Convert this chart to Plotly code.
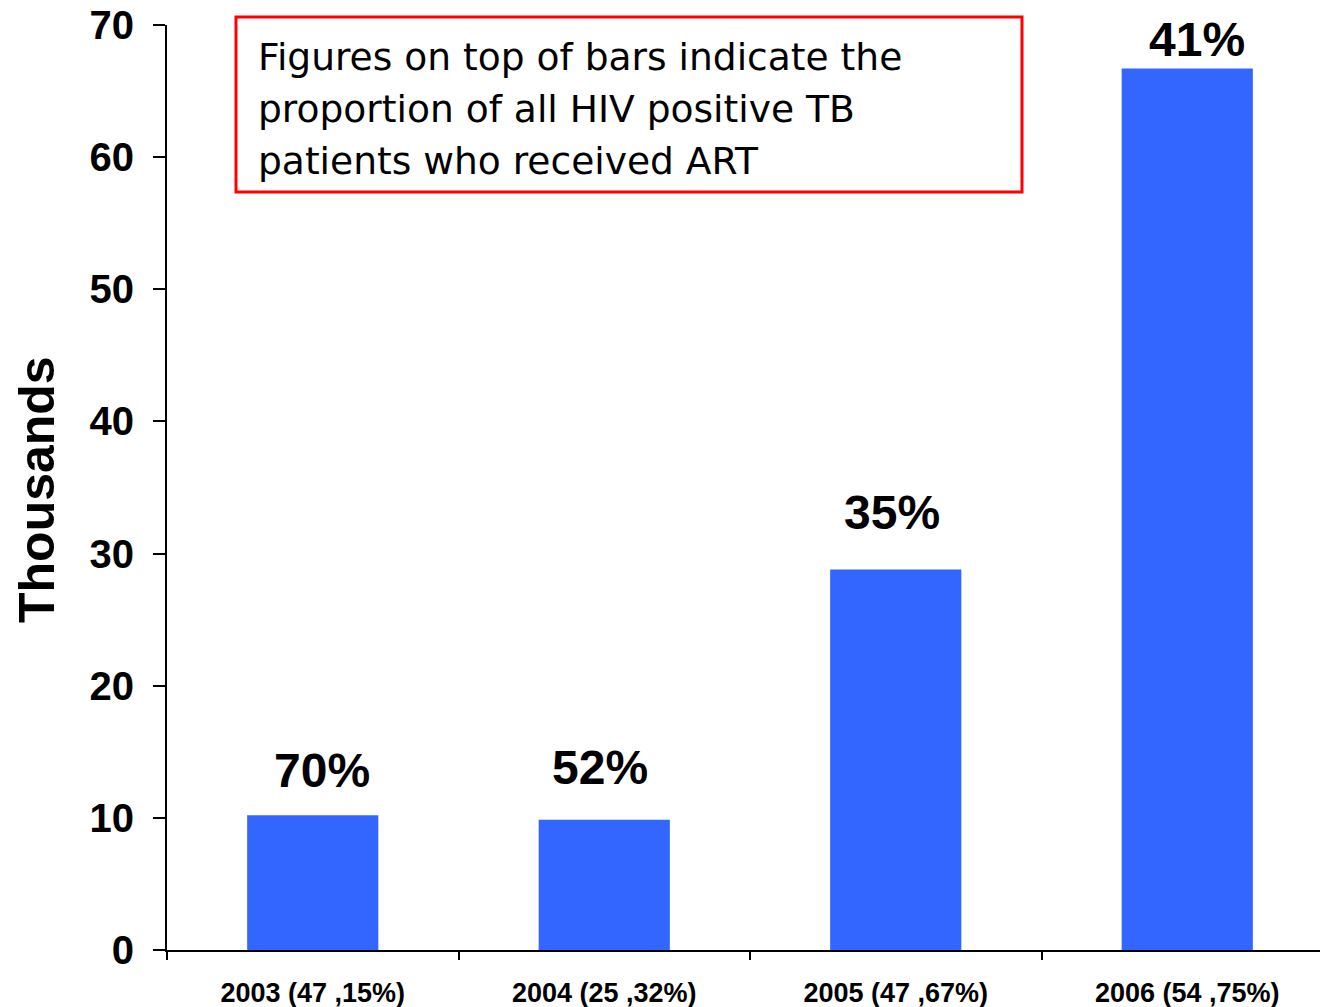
import plotly.graph_objects as go

# ---- data ----
categories = ["2003 (47 ,15%)", "2004 (25 ,32%)", "2005 (47 ,67%)", "2006 (54 ,75%)"]
values_thousands = [10.2, 9.85, 28.8, 66.7]
pct_labels = ["70%", "52%", "35%", "41%"]
y_ticks = [0, 10, 20, 30, 40, 50, 60, 70]
note_lines = [
    "Figures on top of bars indicate the",
    "proportion of all HIV positive TB",
    "patients who received ART",
]

# ---- layout helpers (pixels) ----
W, H = 1320, 1007
L, R, T, B = 167, 0, 25, 57
PW, PH = W - L - R, H - T - B


def px_x(px):
    return (px - L) / PW


def px_y(py):
    return (H - B - py) / PH


label_yshift = [16, 24, 28, 1]
label_xshift = [9, -4, -4, 10]

fig = go.Figure()
fig.add_trace(go.Bar(
    x=categories,
    y=values_thousands,
    width=0.45,
    marker=dict(color="#3366FF", line=dict(width=0)),
    hoverinfo="x+y",
))

annotations = []
for c, v, lab, ys, xs in zip(categories, values_thousands, pct_labels, label_yshift, label_xshift):
    annotations.append(dict(
        x=c, y=v, xref="x", yref="y", text=lab, showarrow=False,
        xanchor="center", yanchor="bottom", yshift=ys, xshift=xs,
        font=dict(family="Liberation Sans, Arial, sans-serif", size=48, color="black", weight="bold"),
    ))

# y-axis title
annotations.append(dict(
    x=px_x(37), y=px_y(490), xref="paper", yref="paper", text="Thousands",
    textangle=-90, showarrow=False, xanchor="center", yanchor="middle",
    font=dict(family="Liberation Sans, Arial, sans-serif", size=50, color="black", weight="bold"),
))

# note text lines
for i, line in enumerate(note_lines):
    baseline = 71 + 52 * i
    annotations.append(dict(
        x=px_x(256), y=px_y(baseline + 10), xref="paper", yref="paper", text=line,
        showarrow=False, xanchor="left", yanchor="bottom", align="left",
        font=dict(family="DejaVu Sans, Verdana, sans-serif", size=37.6, color="black"),
    ))

fig.update_layout(
    width=W, height=H,
    margin=dict(l=L, r=R, t=T, b=B, pad=0),
    plot_bgcolor="white", paper_bgcolor="white",
    showlegend=False,
    bargap=0.55,
    annotations=annotations,
    shapes=[dict(
        type="rect", xref="paper", yref="paper",
        x0=px_x(236), x1=px_x(1022), y0=px_y(192), y1=px_y(17),
        line=dict(color="#FF0000", width=3), fillcolor="rgba(0,0,0,0)",
    )],
    xaxis=dict(
        type="category",
        range=[-0.5, -0.5 + PW / 291.5],
        showline=True, linecolor="black", linewidth=2,
        ticks="outside", ticklen=8, tickwidth=2, tickcolor="black",
        tickson="boundaries",
        showgrid=False, zeroline=False,
        tickfont=dict(family="Liberation Sans, Arial, sans-serif", size=27, color="black", weight="bold"),
        ticklabelstandoff=18,
    ),
    yaxis=dict(
        range=[0, 70],
        tickvals=y_ticks,
        ticktext=[str(t) for t in y_ticks],
        showline=True, linecolor="black", linewidth=2,
        ticks="outside", ticklen=12, tickwidth=2, tickcolor="black",
        showgrid=False, zeroline=False,
        tickfont=dict(family="Liberation Sans, Arial, sans-serif", size=40, color="black", weight="bold"),
        ticklabelstandoff=11,
    ),
)

fig.write_html(
    "out.html",
    config={"displayModeBar": False},
    post_script="document.body.style.margin='0';document.body.style.overflow='hidden';",
)
